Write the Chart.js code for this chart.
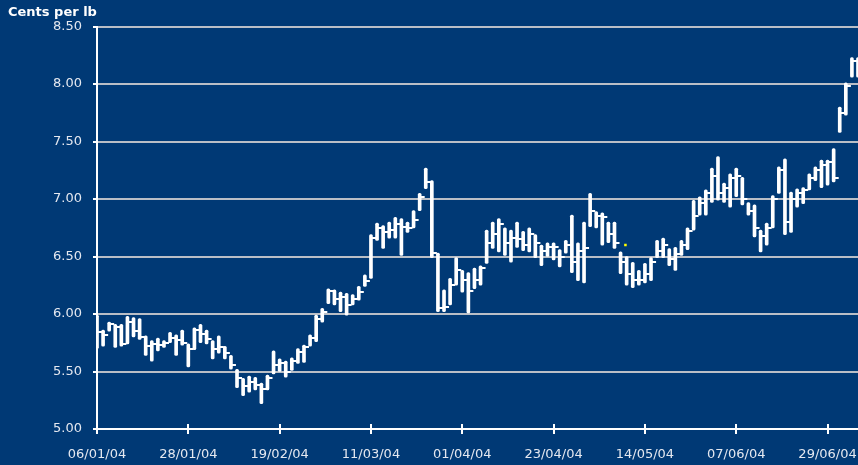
<!DOCTYPE html>
<html>
<head>
<meta charset="utf-8">
<script src="https://cdn.jsdelivr.net/npm/chart.js@4.4.1/dist/chart.umd.min.js"></script>
<style>
  html, body { margin: 0; padding: 0; background: #003975; overflow: hidden; }
  #wrap { width: 858px; height: 465px; }
</style>
</head>
<body>
<div id="wrap"><canvas id="priceChart"></canvas></div>
<script>
// one tick label every 15 trading days
const tickLabels = ['06/01/04', '28/01/04', '19/02/04', '11/03/04', '01/04/04', '23/04/04', '14/05/04', '07/06/04', '29/06/04'];

const highs = [
  5.99, 5.86, 5.93, 5.91, 5.91, 5.98, 5.97, 5.96, 5.81, 5.77,
  5.79, 5.77, 5.84, 5.82, 5.86, 5.74, 5.88, 5.91, 5.86, 5.77,
  5.81, 5.72, 5.64, 5.52, 5.44, 5.46, 5.45, 5.40, 5.47, 5.68,
  5.61, 5.59, 5.62, 5.70, 5.73, 5.82, 5.99, 6.05, 6.22, 6.21,
  6.19, 6.18, 6.17, 6.24, 6.34, 6.69, 6.79, 6.77, 6.80, 6.84,
  6.83, 6.80, 6.90, 7.05, 7.27, 7.16, 6.53, 6.21, 6.31, 6.49,
  6.38, 6.36, 6.40, 6.42, 6.73, 6.80, 6.83, 6.75, 6.73, 6.80,
  6.72, 6.75, 6.69, 6.60, 6.62, 6.62, 6.56, 6.64, 6.86, 6.62,
  6.80, 7.05, 6.89, 6.88, 6.80, 6.80, 6.54, 6.50, 6.45, 6.38,
  6.44, 6.49, 6.64, 6.66, 6.57, 6.58, 6.64, 6.75, 6.99, 7.02,
  7.08, 7.27, 7.37, 7.14, 7.22, 7.27, 7.19, 6.97, 6.95, 6.73,
  6.79, 7.03, 7.28, 7.35, 7.06, 7.09, 7.10, 7.22, 7.28, 7.34,
  7.34, 7.44, 7.80, 8.01, 8.23, 8.23
];
const lows = [
  5.70, 5.72, 5.85, 5.71, 5.72, 5.74, 5.80, 5.78, 5.64, 5.59,
  5.68, 5.71, 5.75, 5.64, 5.73, 5.54, 5.69, 5.75, 5.74, 5.61,
  5.66, 5.61, 5.52, 5.36, 5.29, 5.32, 5.34, 5.22, 5.34, 5.48,
  5.50, 5.45, 5.51, 5.57, 5.58, 5.72, 5.76, 5.93, 6.09, 6.08,
  6.02, 5.99, 6.08, 6.12, 6.24, 6.31, 6.64, 6.57, 6.66, 6.66,
  6.51, 6.71, 6.75, 6.90, 7.09, 6.49, 6.02, 6.02, 6.08, 6.25,
  6.19, 6.01, 6.22, 6.25, 6.44, 6.57, 6.54, 6.51, 6.45, 6.58,
  6.55, 6.54, 6.49, 6.42, 6.50, 6.47, 6.41, 6.53, 6.36, 6.29,
  6.27, 6.76, 6.75, 6.60, 6.62, 6.57, 6.35, 6.25, 6.23, 6.25,
  6.27, 6.29, 6.49, 6.49, 6.42, 6.38, 6.51, 6.56, 6.73, 6.86,
  6.86, 6.97, 6.99, 6.97, 6.93, 7.02, 6.95, 6.86, 6.67, 6.54,
  6.60, 6.75, 7.05, 6.69, 6.71, 6.93, 6.96, 7.08, 7.16, 7.10,
  7.12, 7.15, 7.58, 7.73, 8.06, 8.06
];
const closes = [
  5.84, 5.82, 5.91, 5.89, 5.74, 5.93, 5.85, 5.80, 5.72, 5.74,
  5.73, 5.75, 5.79, 5.77, 5.75, 5.70, 5.86, 5.83, 5.78, 5.70,
  5.71, 5.66, 5.56, 5.44, 5.37, 5.41, 5.38, 5.35, 5.44, 5.56,
  5.57, 5.50, 5.59, 5.67, 5.71, 5.79, 5.96, 6.02, 6.20, 6.13,
  6.15, 6.08, 6.13, 6.19, 6.29, 6.66, 6.75, 6.71, 6.73, 6.78,
  6.76, 6.75, 6.82, 7.02, 7.15, 6.53, 6.05, 6.06, 6.25, 6.38,
  6.30, 6.20, 6.30, 6.40, 6.62, 6.70, 6.78, 6.62, 6.66, 6.65,
  6.60, 6.70, 6.62, 6.55, 6.58, 6.58, 6.50, 6.60, 6.45, 6.55,
  6.57, 6.90, 6.85, 6.84, 6.70, 6.62, 6.45, 6.35, 6.30, 6.30,
  6.35, 6.45, 6.55, 6.60, 6.48, 6.52, 6.60, 6.72, 6.85, 6.97,
  7.05, 7.20, 7.05, 7.10, 7.18, 7.20, 7.00, 6.90, 6.75, 6.68,
  6.75, 7.00, 7.25, 6.80, 7.00, 7.05, 7.08, 7.18, 7.25, 7.30,
  7.32, 7.18, 7.75, 7.98, 8.20, 8.22
];

// the lone yellow marker
const markerX = [86.8];
const markerY = [6.60];

const bgColor = '#003975';
const textColor = '#e4e8f0';

// close tick: short white dash to the right of the bar
const tick = document.createElement('canvas');
tick.width = 12;
tick.height = 2;
const tctx = tick.getContext('2d');
tctx.fillStyle = '#ffffff';
tctx.fillRect(6, 0, 5, 2);

const rangeData = highs.map((h, i) => ({ x: i, y: [lows[i], h] }));
const closeData = closes.map((c, i) => ({ x: i, y: c }));
const markerData = markerX.map((x, i) => ({ x: x, y: markerY[i] }));

const background = {
  id: 'background',
  beforeDraw(chart) {
    const c = chart.ctx;
    c.save();
    c.fillStyle = bgColor;
    c.fillRect(0, 0, chart.width, chart.height);
    c.restore();
  },
  afterDraw(chart) {
    // the x tick marks cross the axis line
    const xs = chart.scales.x;
    const c = chart.ctx;
    c.save();
    c.strokeStyle = '#ffffff';
    c.lineWidth = 2;
    xs.ticks.forEach(t => {
      const px = Math.round(xs.getPixelForValue(t.value));
      c.beginPath();
      c.moveTo(px, xs.top);
      c.lineTo(px, xs.top - 5);
      c.stroke();
    });
    c.restore();
  }
};

const ctx = document.getElementById('priceChart');

priceChart = new Chart(ctx, {
  type: 'bar',
  data: {
    datasets: [
      {
        label: 'Range',
        data: rangeData,
        backgroundColor: '#ffffff',
        barThickness: 3,
        borderRadius: 1.5,
        borderSkipped: false,
        order: 2
      },
      {
        type: 'line',
        label: 'Close',
        data: closeData,
        showLine: false,
        pointStyle: tick,
        pointRadius: 3,
        pointHoverRadius: 3,
        order: 1
      },
      {
        type: 'line',
        label: 'Marker',
        data: markerData,
        showLine: false,
        pointStyle: 'rect',
        pointRadius: 1.8,
        backgroundColor: '#ffff00',
        borderWidth: 0,
        order: 0
      }
    ]
  },
  options: {
    responsive: true,
    maintainAspectRatio: false,
    animation: false,
    layout: { autoPadding: false, padding: { left: 8, right: 0, top: 0, bottom: 0 } },
    plugins: {
      legend: { display: false },
      tooltip: { enabled: false },
      title: {
        display: true,
        text: 'Cents per lb',
        align: 'start',
        color: '#ffffff',
        font: { family: 'DejaVu Sans', size: 13, weight: 'bold' },
        padding: { top: 5, bottom: 6 }
      }
    },
    scales: {
      x: {
        type: 'linear',
        min: 0,
        max: 125,
        offset: false,
        afterFit: scale => {
          scale.height = 36;
          scale.paddingLeft = 0;
          scale.paddingRight = 0;
        },
        grid: {
          offset: false,
          drawOnChartArea: false,
          tickLength: 5,
          tickColor: '#ffffff',
          lineWidth: 2
        },
        border: { color: '#ffffff', width: 2 },
        ticks: {
          stepSize: 15,
          includeBounds: false,
          autoSkip: false,
          maxRotation: 0,
          padding: 13,
          color: textColor,
          font: { family: 'DejaVu Sans', size: 13 },
          callback: v => tickLabels[v / 15]
        }
      },
      y: {
        min: 5,
        max: 8.5,
        afterFit: scale => { scale.width = 89; },
        grid: {
          color: c => (c.tick && c.tick.value === 5 ? '#ffffff' : '#b9bec6'),
          lineWidth: 2,
          tickLength: 4,
          tickColor: '#ffffff'
        },
        border: { color: '#ffffff', width: 2 },
        ticks: {
          stepSize: 0.5,
          padding: 11,
          color: textColor,
          font: { family: 'DejaVu Sans', size: 13 },
          callback: v => v.toFixed(2)
        }
      }
    }
  },
  plugins: [background]
});
</script>
</body>
</html>
